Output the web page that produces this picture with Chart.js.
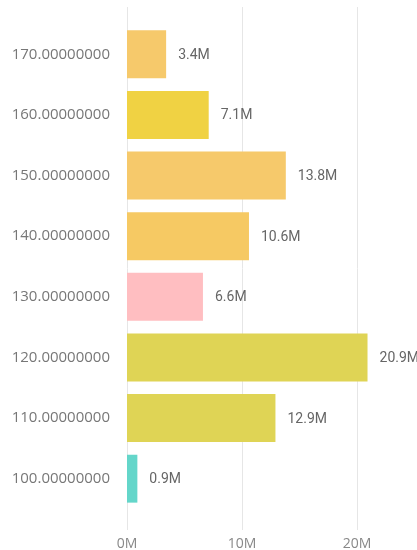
<!DOCTYPE html>
<html>
<head>
<meta charset="utf-8">
<script src="https://cdn.jsdelivr.net/npm/chart.js@4"></script>
<style>
  html, body { margin: 0; padding: 0; background: #fff; }
  #wrap { width: 417px; height: 550px; }
</style>
</head>
<body>
<div id="wrap"><canvas id="myChart"></canvas></div>
<script>
var categories = ['170.00000000', '160.00000000', '150.00000000', '140.00000000',
                  '130.00000000', '120.00000000', '110.00000000', '100.00000000'];
var values = [3.4, 7.1, 13.8, 10.6, 6.6, 20.9, 12.9, 0.9]; // millions
var barColors = ['#F6C96B', '#F0D243', '#F6C96B', '#F6C963',
                 '#FFBEC1', '#DFD455', '#DFD455', '#64D6CA'];
var xTicks = [0, 10, 20];

// vertical grid lines run a bit past the bars, like the original
var gridPlugin = {
  id: 'grid',
  beforeDatasetsDraw: function(chart) {
    var c = chart.ctx, x = chart.scales.x, area = chart.chartArea;
    c.save();
    c.strokeStyle = '#E6E6E6';
    c.lineWidth = 1;
    xTicks.forEach(function(t) {
      var px = Math.round(x.getPixelForValue(t)) + 0.5;
      c.beginPath();
      c.moveTo(px, area.top - 17);
      c.lineTo(px, area.bottom + 21);
      c.stroke();
    });
    c.restore();
  }
};

var labelPlugin = {
  id: 'valueLabels',
  afterDatasetsDraw: function(chart) {
    var c = chart.ctx;
    var meta = chart.getDatasetMeta(0);
    c.save();
    c.font = '14px Roboto';
    c.fillStyle = '#666';
    c.textBaseline = 'middle';
    c.textAlign = 'left';
    meta.data.forEach(function(bar, i) {
      c.fillText(values[i].toFixed(1) + 'M', bar.x + 12, bar.y + 1);
    });
    c.restore();
  }
};

var ctx = document.getElementById('myChart').getContext('2d');
var chart = new Chart(ctx, {
  type: 'bar',
  data: {
    labels: categories,
    datasets: [{
      data: values,
      backgroundColor: barColors,
      categoryPercentage: 1,
      barPercentage: 0.79
    }]
  },
  options: {
    indexAxis: 'y',
    responsive: true,
    maintainAspectRatio: false,
    animation: false,
    layout: { padding: { top: 24, right: 0, bottom: 0, left: 0 } },
    plugins: { legend: { display: false }, tooltip: { enabled: false } },
    scales: {
      x: {
        min: 0,
        max: 25.2,
        grid: { display: false },
        border: { display: false },
        afterFit: function(s) { s.height = 41; },
        ticks: {
          stepSize: 10,
          includeBounds: false,
          padding: 19,
          color: '#888',
          font: { family: 'Open Sans', size: 14 },
          callback: function(v) { return xTicks.indexOf(v) >= 0 ? v + 'M' : ''; }
        }
      },
      y: {
        grid: { display: false },
        border: { display: false },
        afterFit: function(s) { s.width = 127; },
        ticks: {
          padding: 9,
          color: '#777',
          font: { family: 'Open Sans', size: 15 }
        }
      }
    }
  },
  plugins: [gridPlugin, labelPlugin]
});
</script>
</body>
</html>
